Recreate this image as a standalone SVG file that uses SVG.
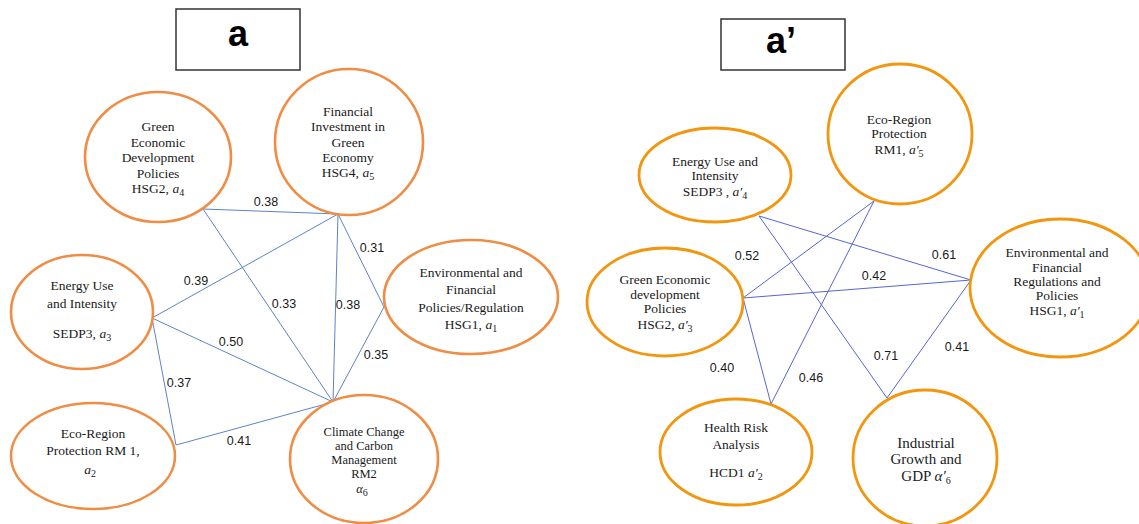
<svg xmlns="http://www.w3.org/2000/svg" width="1139" height="524" viewBox="0 0 1139 524">
<style>
.bg{fill:#fff}
.box{fill:#fff;stroke:#333;stroke-width:1.5}
.title{font-family:"Liberation Sans",Arial,sans-serif;font-weight:bold;font-size:36px;fill:#000;text-anchor:middle}
.nl{fill:#fff;stroke:#ef8d45;stroke-width:2.6}
.nr{fill:#fff;stroke:#f3960f;stroke-width:2.8}
.t{font-family:"Liberation Serif","Times New Roman",serif;font-size:13.5px;fill:#1a1a1a;text-anchor:middle}
.t12{font-size:12.5px}
.t14{font-size:15px}
.i{font-style:italic}
.sub{font-size:10px}
.el{stroke:#5b84c6;stroke-width:1;fill:none}
.er{stroke:#5566d4;stroke-width:1;fill:none}
.w{font-family:"Liberation Sans",Arial,sans-serif;font-size:12.5px;fill:#1a1a1a;text-anchor:middle}
</style>
<rect class="bg" width="1139" height="524"/>
<g id="title-a"><rect class="box" x="176" y="9" width="124" height="61"/><text class="title" x="238" y="46">a</text></g>
<g id="title-a-prime"><rect class="box" x="721" y="19" width="124" height="51"/><text class="title" x="781" y="53">a’</text></g>
<g id="connectors">
<g id="edges-a">
<line class="el" x1="203" y1="209" x2="338" y2="214"/>
<line class="el" x1="338" y1="214" x2="152" y2="318"/>
<line class="el" x1="338" y1="214" x2="333" y2="402"/>
<line class="el" x1="338" y1="214" x2="384" y2="307"/>
<line class="el" x1="203" y1="209" x2="333" y2="402"/>
<line class="el" x1="152" y1="318" x2="333" y2="402"/>
<line class="el" x1="152" y1="318" x2="176" y2="445"/>
<line class="el" x1="176" y1="445" x2="333" y2="402"/>
<line class="el" x1="384" y1="307" x2="333" y2="402"/>
</g>
<g id="edges-a-prime">
<line class="er" x1="759" y1="216" x2="971" y2="280"/>
<line class="er" x1="759" y1="216" x2="887" y2="398"/>
<line class="er" x1="874" y1="201" x2="743" y2="298"/>
<line class="er" x1="874" y1="201" x2="771" y2="404"/>
<line class="er" x1="743" y1="298" x2="971" y2="280"/>
<line class="er" x1="743" y1="298" x2="771" y2="404"/>
<line class="er" x1="971" y1="280" x2="887" y2="398"/>
</g>
<g id="weights">
<text class="w" x="266" y="206">0.38</text>
<text class="w" x="372" y="252">0.31</text>
<text class="w" x="196" y="285">0.39</text>
<text class="w" x="284" y="308">0.33</text>
<text class="w" x="348" y="309">0.38</text>
<text class="w" x="231" y="346">0.50</text>
<text class="w" x="376" y="359">0.35</text>
<text class="w" x="179" y="387">0.37</text>
<text class="w" x="239" y="445">0.41</text>
<text class="w" x="747" y="260">0.52</text>
<text class="w" x="944" y="259">0.61</text>
<text class="w" x="874" y="280">0.42</text>
<text class="w" x="957" y="351">0.41</text>
<text class="w" x="886" y="360">0.71</text>
<text class="w" x="722" y="372">0.40</text>
<text class="w" x="811" y="382">0.46</text>
</g>
</g>
<g id="a-HSG2">
<ellipse class="nl" cx="158" cy="157" rx="73" ry="65"/>
<text class="t"><tspan x="158" y="131">Green</tspan><tspan x="158" y="147">Economic</tspan><tspan x="158" y="162">Development</tspan><tspan x="158" y="178">Policies</tspan><tspan x="158" y="193">HSG2, <tspan class="i">a</tspan><tspan class="sub" dy="3">4</tspan></tspan></text>
</g>
<g id="a-HSG4">
<ellipse class="nl" cx="349" cy="142" rx="74" ry="73"/>
<text class="t"><tspan x="348" y="116">Financial</tspan><tspan x="348" y="131">Investment in</tspan><tspan x="348" y="147">Green</tspan><tspan x="348" y="162">Economy</tspan><tspan x="348" y="177">HSG4, <tspan class="i">a</tspan><tspan class="sub" dy="3">5</tspan></tspan></text>
</g>
<g id="a-HSG1">
<ellipse class="nl" cx="471" cy="297" rx="87" ry="57"/>
<text class="t"><tspan x="471" y="277">Environmental and</tspan><tspan x="471" y="294">Financial</tspan><tspan x="471" y="312">Policies/Regulation</tspan><tspan x="471" y="329">HSG1, <tspan class="i">a</tspan><tspan class="sub" dy="3">1</tspan></tspan></text>
</g>
<g id="a-SEDP3">
<ellipse class="nl" cx="82" cy="312" rx="71" ry="57"/>
<text class="t"><tspan x="82" y="290">Energy Use</tspan><tspan x="82" y="308">and Intensity</tspan><tspan x="82" y="338">SEDP3, <tspan class="i">a</tspan><tspan class="sub" dy="3">3</tspan></tspan></text>
</g>
<g id="a-RM1">
<ellipse class="nl" cx="93" cy="456" rx="82" ry="53"/>
<text class="t"><tspan x="93" y="438">Eco-Region</tspan><tspan x="93" y="455">Protection RM 1,</tspan><tspan x="90" y="474"><tspan class="i">a</tspan><tspan class="sub" dy="3">2</tspan></tspan></text>
</g>
<g id="a-RM2">
<ellipse class="nl" cx="364" cy="459" rx="74" ry="64"/>
<text class="t t12"><tspan x="364" y="436">Climate Change</tspan><tspan x="364" y="450">and Carbon</tspan><tspan x="364" y="464">Management</tspan><tspan x="364" y="478">RM2</tspan><tspan x="362" y="493"><tspan class="i">α</tspan><tspan class="sub" dy="3">6</tspan></tspan></text>
</g>
<g id="ap-RM1">
<ellipse class="nr" cx="900" cy="134" rx="72" ry="70"/>
<text class="t"><tspan x="899" y="124">Eco-Region</tspan><tspan x="899" y="138">Protection</tspan><tspan x="899" y="154">RM1, <tspan class="i">a′</tspan><tspan class="sub" dy="3">5</tspan></tspan></text>
</g>
<g id="ap-SEDP3">
<ellipse class="nr" cx="715" cy="175" rx="76" ry="47"/>
<text class="t"><tspan x="715" y="166">Energy Use and</tspan><tspan x="715" y="180">Intensity</tspan><tspan x="715" y="196">SEDP3 , <tspan class="i">a′</tspan><tspan class="sub" dy="3">4</tspan></tspan></text>
</g>
<g id="ap-HSG1">
<ellipse class="nr" cx="1060" cy="288" rx="90" ry="69"/>
<text class="t"><tspan x="1057" y="257">Environmental and</tspan><tspan x="1057" y="272">Financial</tspan><tspan x="1057" y="286">Regulations and</tspan><tspan x="1057" y="300">Policies</tspan><tspan x="1057" y="315">HSG1, <tspan class="i">a′</tspan><tspan class="sub" dy="3">1</tspan></tspan></text>
</g>
<g id="ap-HSG2">
<ellipse class="nr" cx="665" cy="302" rx="78" ry="54"/>
<text class="t"><tspan x="665" y="284">Green Economic</tspan><tspan x="665" y="299">development</tspan><tspan x="665" y="313">Policies</tspan><tspan x="665" y="329">HSG2, <tspan class="i">a′</tspan><tspan class="sub" dy="3">3</tspan></tspan></text>
</g>
<g id="ap-HCD1">
<ellipse class="nr" cx="736" cy="452" rx="76" ry="53"/>
<text class="t"><tspan x="736" y="432">Health Risk</tspan><tspan x="736" y="449">Analysis</tspan><tspan x="736" y="477">HCD1 <tspan class="i">a′</tspan><tspan class="sub" dy="3">2</tspan></tspan></text>
</g>
<g id="ap-GDP">
<ellipse class="nr" cx="925" cy="458" rx="72" ry="68"/>
<text class="t t14"><tspan x="926" y="448">Industrial</tspan><tspan x="926" y="464">Growth and</tspan><tspan x="926" y="481">GDP <tspan class="i">α′</tspan><tspan class="sub" dy="3">6</tspan></tspan></text>
</g>
</svg>
